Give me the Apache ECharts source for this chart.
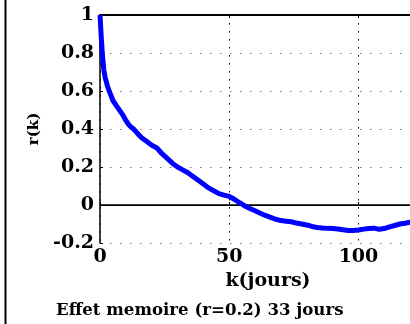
<!DOCTYPE html>
<html>
<head>
<meta charset="utf-8">
<script src="https://cdn.jsdelivr.net/npm/echarts@6/dist/echarts.min.js"></script>
<style>
html,body{margin:0;padding:0;background:#fff;}
#chart{width:410px;height:324px;}
</style>
</head>
<body>
<div id="chart"></div>
<script>
// Data
var kValues = [0,0.5,1,1.5,2,3,4,5,6,7,8,9,10,11,12,13,14,15,16,17,18,20,22,24,26,28,30,32,34,36,38,40,42,44,46,48,50,52,54,56,58,60,62,64,66,68,70,72,74,76,78,80,82,84,86,88,90,92,94,96,98,100,102,104,106,108,110,112,114,116,118,120,122];
var rValues = [1.0,0.88,0.78,0.71,0.67,0.62,0.585,0.55,0.53,0.51,0.49,0.47,0.445,0.425,0.41,0.40,0.385,0.37,0.355,0.345,0.335,0.315,0.30,0.27,0.245,0.22,0.20,0.185,0.17,0.15,0.13,0.11,0.09,0.075,0.06,0.052,0.045,0.03,0.012,-0.005,-0.018,-0.03,-0.043,-0.055,-0.065,-0.075,-0.082,-0.085,-0.088,-0.095,-0.10,-0.105,-0.113,-0.118,-0.121,-0.123,-0.124,-0.126,-0.13,-0.134,-0.134,-0.132,-0.127,-0.124,-0.122,-0.128,-0.124,-0.115,-0.108,-0.10,-0.096,-0.091,-0.087];
var xTicks = {min: 0, max: 130, interval: 50};
var yTicks = {min: -0.2, max: 1, interval: 0.2};
var xName = 'k(jours)';
var yName = 'r(k)';
var titleText = 'Effet memoire (r=0.2) 33 jours';

var points = kValues.map(function (k, i) { return [k, rValues[i]]; });
var font = 'DejaVu Serif';
var chart = echarts.init(document.getElementById('chart'), null, {renderer: 'canvas'});
chart.setOption({
  animation: false,
  backgroundColor: '#fff',
  grid: {left: 100, top: 15, width: 336, height: 228, containLabel: false, outerBoundsMode: 'none'},
  graphic: [
    {type: 'line', shape: {x1: 5.5, y1: 0, x2: 5.5, y2: 324}, style: {stroke: '#000', lineWidth: 2}},
    {type: 'text', left: 56, top: 302, style: {text: titleText, font: 'bold 16.6px "DejaVu Serif"', fill: '#000'}}
  ],
  xAxis: [{
    type: 'value', position: 'bottom', min: xTicks.min, max: xTicks.max, interval: xTicks.interval,
    name: xName, nameLocation: 'middle', nameGap: 24,
    nameTextStyle: {fontFamily: font, fontWeight: 'bold', fontSize: 19, color: '#000'},
    axisLine: {show: true, lineStyle: {color: '#000', width: 1.5}},
    axisTick: {show: true, inside: true, length: 3, lineStyle: {color: '#000'}},
    axisLabel: {fontFamily: font, fontWeight: 'bold', fontSize: 19, color: '#000', margin: 5},
    splitLine: {show: true, lineStyle: {color: '#000', type: [1.5, 6.5], width: 1}}
  }, {
    type: 'value', position: 'top', min: xTicks.min, max: xTicks.max, interval: xTicks.interval,
    axisLine: {show: true, lineStyle: {color: '#000', width: 2}},
    axisTick: {show: true, inside: true, length: 3, lineStyle: {color: '#000'}},
    axisLabel: {show: false}, splitLine: {show: false}
  }],
  yAxis: {
    type: 'value', min: yTicks.min, max: yTicks.max, interval: yTicks.interval,
    name: yName, nameLocation: 'middle', nameGap: 58, nameRotate: 90,
    nameTextStyle: {fontFamily: font, fontWeight: 'bold', fontSize: 15, color: '#000'},
    axisLine: {show: true, lineStyle: {color: '#000', width: 1.5}},
    axisTick: {show: true, inside: true, length: 3, lineStyle: {color: '#000'}},
    axisLabel: {fontFamily: font, fontWeight: 'bold', fontSize: 19, color: '#000', margin: 6},
    splitLine: {show: true, lineStyle: {color: '#777', type: [1.5, 8.5], width: 1}}
  },
  series: [{
    type: 'line', data: points, showSymbol: false, symbol: 'none', smooth: false,
    lineStyle: {color: '#0000ff', width: 5}, z: 3,
    markLine: {
      silent: true, symbol: 'none', z: 1, label: {show: false},
      lineStyle: {color: '#000', width: 1, type: 'solid'},
      data: [{yAxis: 0}]
    }
  }]
});
</script>
</body>
</html>
